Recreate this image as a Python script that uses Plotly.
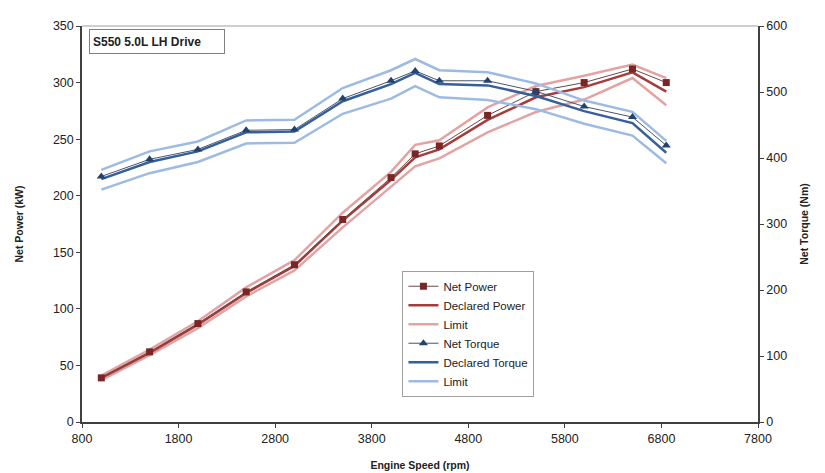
import plotly.graph_objects as go

rpm = [1000, 1500, 2000, 2500, 3000, 3500, 4000, 4250, 4500, 5000, 5500, 6000, 6500, 6850]

net_power = [39, 62, 87, 115, 139, 179, 216, 237, 244, 271, 292, 300, 312, 300]
declared_power = [39, 61, 86, 114, 138, 178, 214, 234, 241, 267, 287, 296, 309, 292]
power_upper = [41, 64, 89, 119, 143, 185, 221, 245, 249, 278, 297, 306, 316, 304]
power_lower = [37, 59, 83, 111, 134, 172, 208, 226, 233, 256, 274, 285, 304, 280]

net_torque = [372, 398, 413, 442, 443, 490, 517, 532, 517, 517, 501, 478, 462, 419]
declared_torque = [368, 394, 410, 439, 440, 486, 512, 529, 512, 510, 494, 471, 453, 408]
torque_upper = [382, 410, 425, 457, 458, 506, 533, 550, 533, 530, 513, 487, 470, 426]
torque_lower = [352, 377, 394, 422, 423, 467, 490, 509, 492, 488, 474, 452, 434, 392]

x_ticks = [800, 1800, 2800, 3800, 4800, 5800, 6800, 7800]

FONT = "Liberation Sans, Arial, sans-serif"

fig = go.Figure()

# Power traces (left axis)
fig.add_trace(go.Scatter(x=rpm, y=power_upper, mode="lines", name="Limit",
                         line=dict(color="#e3a3a3", width=2.5),
                         legendgroup="plim", showlegend=False, legendrank=3))
fig.add_trace(go.Scatter(x=rpm, y=power_lower, mode="lines", name="Limit",
                         line=dict(color="#e3a3a3", width=2.5),
                         legendgroup="plim", showlegend=True, legendrank=3))
fig.add_trace(go.Scatter(x=rpm, y=declared_power, mode="lines", name="Declared Power",
                         line=dict(color="#a63c3c", width=2.5), legendrank=2))
fig.add_trace(go.Scatter(x=rpm, y=net_power, mode="lines+markers", name="Net Power",
                         line=dict(color="#6b4848", width=1),
                         marker=dict(symbol="square", size=7, color="#7a2626"),
                         legendrank=1))

# Torque traces (right axis)
fig.add_trace(go.Scatter(x=rpm, y=torque_upper, mode="lines", name="Limit", yaxis="y2",
                         line=dict(color="#9dbbe2", width=2.5),
                         legendgroup="tlim", showlegend=False, legendrank=6))
fig.add_trace(go.Scatter(x=rpm, y=torque_lower, mode="lines", name="Limit", yaxis="y2",
                         line=dict(color="#9dbbe2", width=2.5),
                         legendgroup="tlim", showlegend=True, legendrank=6))
fig.add_trace(go.Scatter(x=rpm, y=declared_torque, mode="lines", name="Declared Torque", yaxis="y2",
                         line=dict(color="#35609a", width=2.5), legendrank=5))
fig.add_trace(go.Scatter(x=rpm, y=net_torque, mode="lines+markers", name="Net Torque", yaxis="y2",
                         line=dict(color="#4a5568", width=1),
                         marker=dict(symbol="triangle-up", size=8, color="#24426e"),
                         legendrank=4))

fig.update_layout(
    width=825, height=473,
    margin=dict(l=73, r=75, t=11, b=56),
    paper_bgcolor="white", plot_bgcolor="white",
    font=dict(family=FONT, size=12, color="#222222"),
    showlegend=True,
    legend=dict(x=0.474, y=0.382, xanchor="left", yanchor="top",
                bgcolor="white", bordercolor="#a0a0a0", borderwidth=1,
                font=dict(family=FONT, size=11.5, color="#222222"),
                itemwidth=30, tracegroupgap=0, traceorder="normal"),
    xaxis=dict(range=[800, 7800], tickvals=x_ticks, showgrid=False, zeroline=False,
               showline=True, linecolor="#404040", linewidth=1.5,
               ticks="outside", ticklen=4, tickcolor="#404040",
               tickfont=dict(size=12.5),
               title=dict(text="<b>Engine Speed (rpm)</b>", font=dict(size=10.5), standoff=17)),
    yaxis=dict(range=[0, 350], dtick=50, showgrid=False, zeroline=False,
               showline=True, linecolor="#404040", linewidth=1.5,
               ticks="outside", ticklen=4, tickcolor="#404040",
               tickfont=dict(size=12.5),
               title=dict(text="<b>Net Power (kW)</b>", font=dict(size=10.5), standoff=27)),
    yaxis2=dict(range=[0, 600], dtick=100, overlaying="y", side="right",
                showgrid=False, zeroline=False,
                showline=True, linecolor="#404040", linewidth=1.5,
                ticks="outside", ticklen=4, tickcolor="#404040",
                tickfont=dict(size=12.5),
                title=dict(text="<b>Net Torque (Nm)</b>", font=dict(size=10.5), standoff=14)),
    shapes=[dict(type="line", xref="paper", yref="paper", x0=0, x1=1, y0=1, y1=1,
                 line=dict(color="#a0a0a0", width=1.2))],
    annotations=[dict(text="<b>S550 5.0L LH Drive</b>", xref="paper", yref="paper",
                      x=0.0105, y=0.993, xanchor="left", yanchor="top", showarrow=False,
                      width=128, height=17, align="left",
                      font=dict(family=FONT, size=12, color="#222222"),
                      bordercolor="#808080", borderwidth=1, borderpad=3, bgcolor="white")],
)

fig.write_html("out.html")
